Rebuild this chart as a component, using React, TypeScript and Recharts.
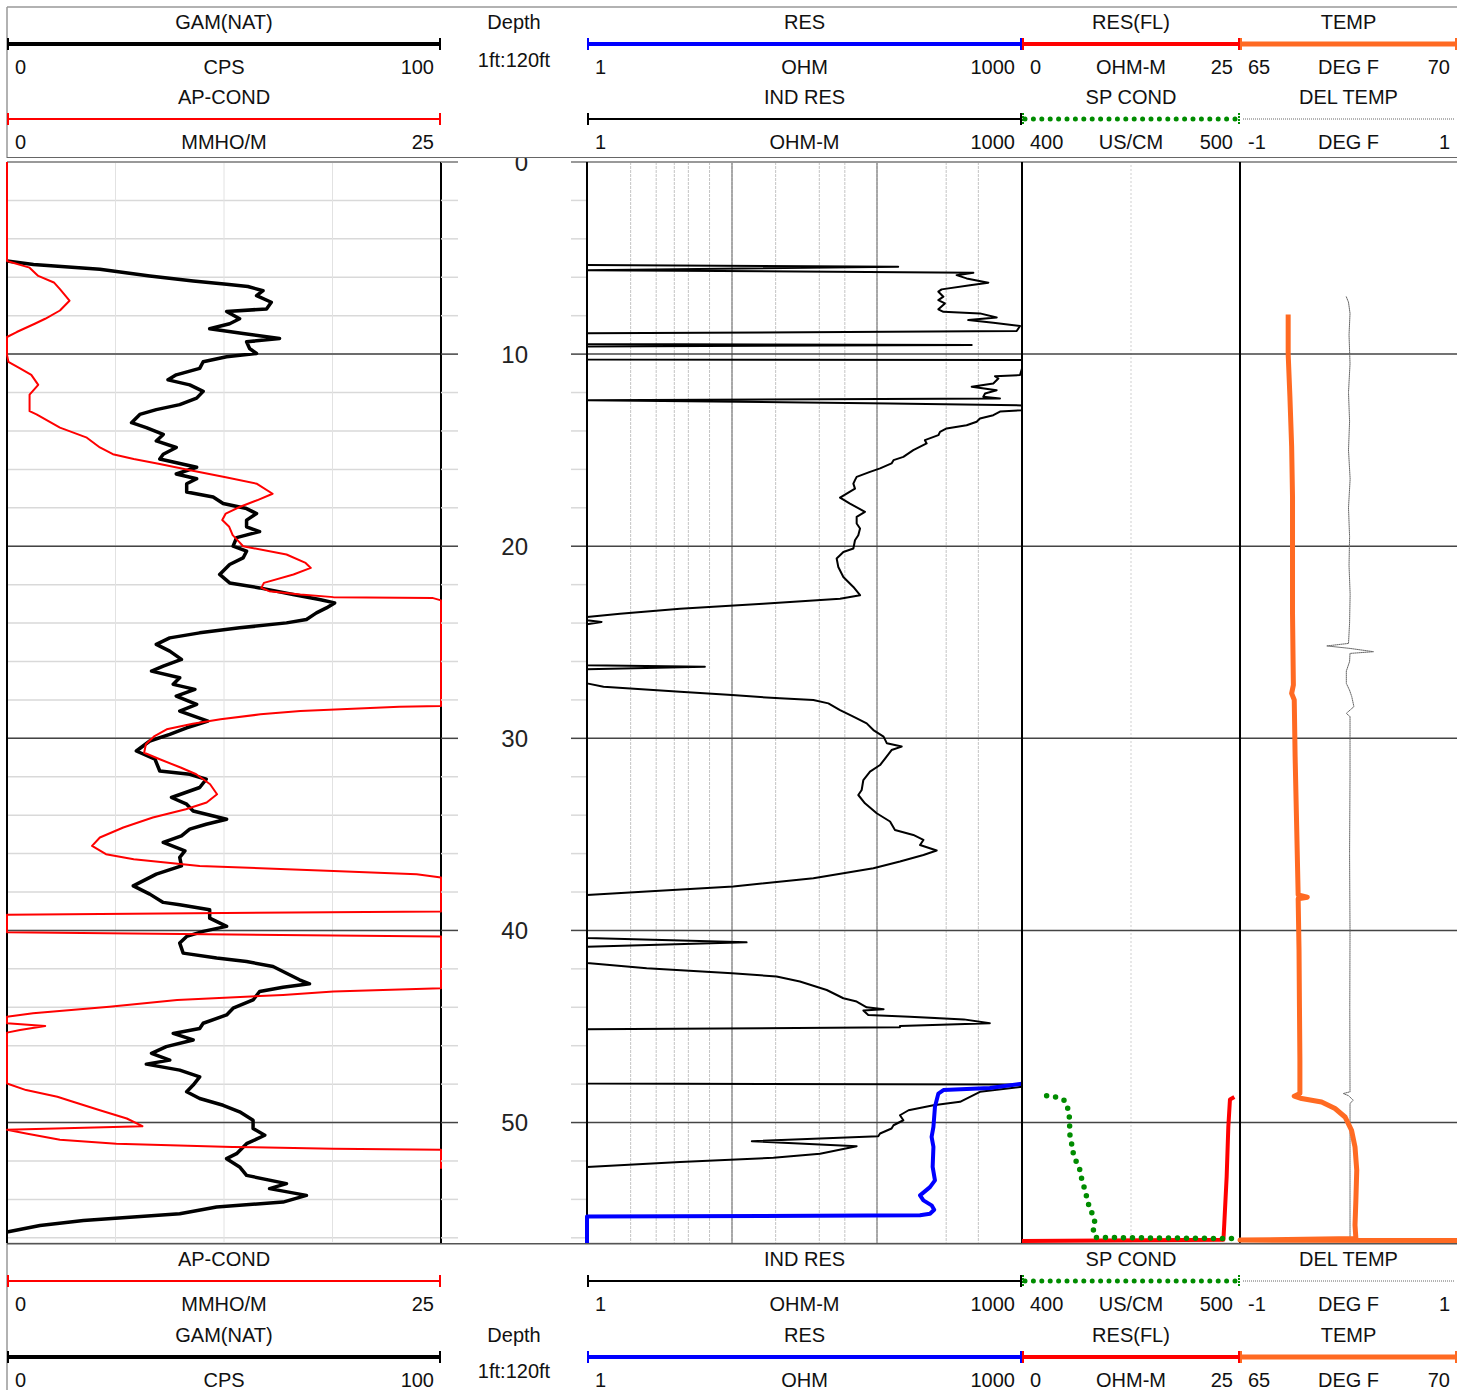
import React from "react";
import { LineChart, Line, XAxis, YAxis, CartesianGrid, ReferenceLine } from "recharts";

// ---- readings off the log: [depth ft, value] ----
const gamNat: [number, number][] = [
  [5.15, 0], [5.33, 6.1], [5.58, 21.4], [5.93, 32.9], [6.19, 42.9], [6.36, 50.6], [6.48, 55.5], [6.7, 59.0],
  [6.96, 57.5], [7.3, 60.9], [7.65, 59.8], [7.78, 50.6], [8.16, 53.6], [8.42, 51.3], [8.68, 46.7], [8.93, 54.4],
  [9.19, 62.8], [9.36, 55.2], [9.71, 55.9], [9.97, 57.5], [10.14, 50.6], [10.4, 45.2], [10.74, 44.4], [11.08, 39.0],
  [11.34, 37.1], [11.6, 42.1], [11.94, 45.2], [12.29, 43.7], [12.63, 39.8], [12.89, 34.4], [13.14, 30.6], [13.57, 28.7],
  [13.83, 32.1], [14.18, 36.0], [14.52, 34.4], [14.86, 39.0], [15.21, 36.0], [15.46, 35.2], [15.89, 43.7], [16.24, 39.0],
  [16.49, 43.7], [16.75, 41.4], [17.18, 41.4], [17.44, 47.5], [17.78, 49.8], [18.04, 55.2], [18.3, 57.5], [18.64, 55.2],
  [18.99, 55.2], [19.24, 58.2], [19.55, 52.9], [20.0, 52.1], [20.26, 55.2], [20.61, 54.4], [20.95, 51.3], [21.47, 49.0],
  [21.91, 51.3], [22.17, 58.2], [22.51, 65.9], [22.77, 72.0], [22.95, 75.5], [23.21, 73.6], [23.47, 71.3], [23.81, 69.0],
  [23.99, 64.4], [24.25, 53.6], [24.51, 44.4], [24.77, 37.5], [25.11, 34.4], [25.46, 37.5], [25.89, 40.2], [26.24, 36.0],
  [26.5, 33.3], [26.85, 39.8], [27.19, 38.3], [27.45, 43.3], [27.8, 39.0], [28.23, 43.7], [28.58, 39.8], [29.1, 46.3],
  [29.45, 41.4], [29.79, 37.5], [30.14, 32.9], [30.66, 29.8], [31.09, 34.1], [31.7, 35.2], [31.87, 42.1], [32.13, 45.9],
  [32.56, 44.4], [33.08, 37.9], [33.43, 41.4], [33.78, 42.9], [34.21, 50.6], [34.47, 45.9], [34.73, 42.1], [35.08, 40.2],
  [35.42, 36.0], [35.86, 41.0], [36.2, 39.8], [36.64, 40.2], [37.07, 34.4], [37.68, 29.1], [38.11, 32.9], [38.54, 36.0],
  [38.66, 39.8], [38.92, 46.7], [39.36, 46.7], [39.79, 50.6], [40.05, 45.2], [40.31, 41.4], [40.66, 39.8], [41.18, 40.6],
  [41.44, 48.3], [41.62, 55.2], [41.88, 61.3], [42.23, 64.4], [42.57, 67.4], [42.78, 69.7], [42.96, 63.6], [43.18, 58.2],
  [43.62, 56.7], [44.05, 52.1], [44.4, 50.6], [44.83, 45.2], [45.1, 44.4], [45.36, 38.3], [45.7, 42.9], [46.05, 36.7],
  [46.4, 33.3], [46.75, 37.5], [46.96, 32.1], [47.27, 39.8], [47.62, 44.4], [48.05, 42.9], [48.4, 41.4], [48.75, 44.4],
  [49.1, 49.8], [49.44, 53.6], [49.88, 56.7], [50.31, 56.7], [50.66, 59.4], [51.1, 55.2], [51.62, 52.9], [51.88, 50.6],
  [52.31, 53.6], [52.75, 55.2], [53.18, 64.4], [53.44, 60.5], [53.79, 69.0], [54.14, 63.6], [54.4, 48.3], [54.75, 39.8],
  [55.1, 17.6], [55.36, 7.6], [55.7, 0],
];

const apCond: [number, number][] = [
  [0, 0], [5.15, 0], [5.5, 1.3], [5.93, 1.8], [6.27, 2.7], [6.62, 3.05], [7.22, 3.6], [7.73, 3.05], [8.16, 2.2],
  [8.42, 1.6], [8.85, 0.56], [9.11, 0], [10.05, 0], [10.4, 0.08], [10.74, 0.75], [11.08, 1.4], [11.6, 1.8], [12.11, 1.3],
  [12.97, 1.3], [13.14, 1.7], [13.83, 3.05], [14.35, 4.6], [14.86, 5.35], [15.21, 6.1], [15.46, 7.3], [15.72, 8.8],
  [16.07, 10.7], [16.41, 12.6], [16.75, 14.4], [17.27, 15.3], [17.61, 14.4], [17.96, 13.4], [18.3, 12.6], [18.64, 12.4],
  [18.99, 12.8], [19.42, 13.0], [19.8, 13.4], [20.0, 13.6], [20.43, 16.1], [20.87, 17.2], [21.13, 17.5], [21.47, 16.5],
  [21.91, 14.8], [22.17, 14.65], [22.34, 15.1], [22.51, 16.9], [22.65, 18.8], [22.69, 24.5], [22.82, 25], [28.32, 25],
  [28.35, 22.6], [28.58, 16.9], [28.75, 14.6], [29.01, 12.3], [29.24, 10.7], [29.53, 9.2], [29.88, 8.5], [30.31, 8.0],
  [30.75, 7.9], [31.09, 8.8], [31.52, 10.0], [31.87, 10.9], [32.39, 11.7], [32.91, 12.1], [33.34, 11.5], [33.69, 10.3],
  [34.12, 8.4], [34.64, 6.7], [35.16, 5.35], [35.6, 4.9], [36.03, 5.7], [36.29, 7.3], [36.64, 11.1], [36.9, 18.8],
  [37.07, 23.6], [37.24, 25], [39.01, 25], [39.18, 0], [40.1, 0], [40.31, 25], [43.01, 25], [43.18, 18.8], [43.36, 15.9],
  [43.62, 9.8], [43.97, 5.9], [44.31, 1.5], [44.49, 0], [44.83, 0], [44.97, 2.2], [45.18, 0.75], [45.32, 0], [47.97, 0],
  [48.31, 1.1], [48.66, 2.9], [48.92, 3.8], [49.36, 5.35], [49.79, 6.9], [50.19, 7.8], [50.37, 0], [50.57, 1.1],
  [50.89, 3.05], [51.1, 6.3], [51.27, 13.0], [51.36, 18.8], [51.41, 25], [52.4, 25],
];

const indRes: [number, number][] = [
  [5.36, 1], [5.45, 140], [5.63, 1], [5.76, 462], [5.89, 354], [6.06, 415], [6.28, 586], [6.41, 438], [6.63, 279],
  [6.75, 265], [7.01, 287], [7.19, 265], [7.36, 294], [7.67, 265], [7.8, 287], [7.88, 513], [8.09, 669], [8.23, 426],
  [8.37, 634], [8.54, 969], [8.8, 919], [8.92, 1], [9.47, 1], [9.53, 450], [9.6, 1], [10.28, 1], [10.31, 1000],
  [10.75, 1000], [11.09, 969], [11.15, 651], [11.27, 687], [11.53, 634], [11.7, 450], [11.88, 669], [12.05, 556],
  [12.22, 541], [12.31, 705], [12.4, 1], [12.57, 123], [12.67, 1000], [12.92, 1000], [12.99, 705], [13.18, 634],
  [13.35, 513], [13.52, 487], [13.7, 415], [13.87, 302], [14.05, 272], [14.22, 265], [14.48, 214], [14.65, 220],
  [15.0, 178], [15.35, 152], [15.52, 130], [15.69, 126], [15.95, 105], [16.13, 89.5], [16.39, 72.4], [16.56, 70.5],
  [16.74, 68.7], [17.0, 70.5], [17.26, 61.8], [17.47, 55.6], [17.78, 65.1], [18.21, 82.6], [18.47, 72.4], [18.82, 72.4],
  [19.08, 76.4], [19.43, 74.3], [19.69, 70.5], [20.12, 68.7], [20.3, 58.6], [20.47, 55.6], [20.64, 52.7], [21.08, 54.1],
  [21.6, 58.6], [22.12, 68.7], [22.55, 76.4], [22.73, 55.6], [22.99, 16.4], [23.25, 4.38], [23.51, 1.69], [23.68, 1],
  [23.85, 1], [23.94, 1.26], [24.06, 1], [26.19, 1], [26.27, 6.5], [26.41, 1], [27.14, 1], [27.31, 1.3], [27.57, 4.38],
  [27.75, 10], [27.92, 21.4], [28.01, 36.4], [28.18, 46.2], [28.53, 55.6], [28.87, 68.7], [29.22, 84.9], [29.57, 94.4],
  [29.91, 111], [30.26, 117], [30.43, 148], [30.61, 126], [31.04, 114], [31.39, 105], [31.73, 89.5], [32.17, 80.5],
  [32.69, 78.4], [32.95, 74.3], [33.38, 82.6], [33.9, 99.5], [34.33, 123], [34.77, 133], [35.03, 178], [35.29, 209],
  [35.55, 198], [35.84, 258], [36.07, 209], [36.41, 144], [36.76, 94.4], [37.28, 36.4], [37.71, 10.2], [37.97, 2.58],
  [38.15, 1], [40.4, 1], [40.62, 12.6], [40.85, 1], [41.7, 1], [41.97, 2.58], [42.23, 10], [42.4, 20.3], [42.66, 29.4],
  [43.1, 45], [43.53, 58.6], [43.7, 72.4], [44.0, 84.9], [44.1, 111], [44.17, 80.5], [44.4, 87], [44.49, 168],
  [44.63, 397], [44.83, 600], [44.97, 144], [45.04, 144], [45.15, 1], [47.97, 1], [48.02, 1000], [48.14, 1000],
  [48.4, 513], [48.66, 438], [48.92, 374], [49.1, 245], [49.36, 165], [49.62, 144], [49.88, 152], [50.14, 130],
  [50.31, 126], [50.57, 105], [50.71, 102], [50.97, 13.7], [51.23, 72.4], [51.62, 40.5], [51.83, 19.3], [52.05, 4.38],
  [52.31, 1],
];

const res: [number, number][] = [
  [47.98, 1000], [48.2, 600], [48.31, 287], [48.49, 265], [49.18, 251], [50.23, 245], [50.75, 238], [51.27, 245],
  [52.31, 242], [53.01, 251], [53.36, 232], [53.79, 198], [54.05, 209], [54.31, 238], [54.54, 248], [54.75, 232],
  [54.83, 198], [54.89, 1], [56.27, 1],
];

const resFl: [number, number][] = [
  [48.67, 24.35], [48.8, 23.85], [50.23, 23.66], [52.82, 23.47], [55.25, 23.2], [56.1, 23.1], [56.17, 0],
];

const spCond: [number, number][] = [
  [48.61, 411.3], [48.67, 415.4], [48.84, 419.4], [49.22, 420.9], [49.71, 421.7], [50.66, 422.0], [51.13, 422.8],
  [51.58, 423.5], [52.01, 424.8], [52.48, 426.6], [52.95, 427.4], [53.41, 428.6], [53.88, 429.7], [54.33, 430.7],
  [54.77, 432.3], [55.22, 433.5], [55.63, 432.7], [55.98, 433.5], [56.04, 497.7],
];

const temp: [number, number][] = [
  [7.94, 66.11], [10.0, 66.11], [12.22, 66.15], [14.82, 66.19], [17.42, 66.21], [20.03, 66.21], [23.5, 66.21],
  [27.22, 66.23], [27.66, 66.19], [28.0, 66.25], [30.95, 66.27], [34.0, 66.3], [38.15, 66.34], [38.27, 66.55],
  [38.35, 66.34], [41.0, 66.36], [44.0, 66.37], [46.76, 66.38], [48.49, 66.38], [48.63, 66.25], [48.75, 66.42],
  [48.93, 66.88], [49.27, 67.19], [49.71, 67.42], [50.4, 67.57], [51.27, 67.65], [52.48, 67.69], [54.04, 67.67],
  [55.34, 67.65], [56.03, 67.67], [56.12, 65], [56.14, 70],
];

const delTemp: [number, number][] = [
  [7.02, -0.02], [7.3, 0.0], [7.88, 0.014], [9.0, 0.005], [10.5, 0.014], [12.0, 0.0], [13.5, 0.01], [15.0, 0.0],
  [16.5, 0.015], [18.0, 0.0], [19.5, 0.01], [21.0, 0.005], [22.5, 0.015], [24.0, 0.01], [25.06, 0.0], [25.19, -0.2],
  [25.32, 0.014], [25.49, 0.23], [25.58, 0.014], [26.0, 0.01], [26.5, -0.02], [27.14, -0.02], [27.5, 0.01],
  [27.83, 0.03], [28.35, 0.05], [28.7, -0.02], [28.87, 0.014], [32.0, 0.014], [36.0, 0.01], [40.0, 0.014],
  [44.0, 0.012], [48.4, 0.014], [48.49, -0.048], [48.6, 0.0], [48.84, 0.044], [49.0, 0.014], [52.0, 0.014],
  [56.2, 0.014],
];

const depthTicks = [0, 2, 4, 6, 8, 10, 12, 14, 16, 18, 20, 22, 24, 26, 28, 30, 32, 34, 36, 38, 40, 42, 44, 46, 48, 50, 52, 54, 56];
const tenFootLines = [10, 20, 30, 40, 50];
const gamTicks = [0, 25, 50, 75, 100];
const logTicks = [1, 2, 3, 4, 5, 6, 7, 8, 9, 10, 20, 30, 40, 50, 60, 70, 80, 90, 100, 200, 300, 400, 500, 600, 700, 800, 900, 1000];
const decadeLines = [10, 100];

// header / footer legend text
const legendA = [
  { key: "gam", title: "GAM(NAT)", unit: "CPS", lo: "0", hi: "100" },
  { key: "res", title: "RES", unit: "OHM", lo: "1", hi: "1000" },
  { key: "fl", title: "RES(FL)", unit: "OHM-M", lo: "0", hi: "25" },
  { key: "temp", title: "TEMP", unit: "DEG F", lo: "65", hi: "70" },
];
const legendB = [
  { key: "cond", title: "AP-COND", unit: "MMHO/M", lo: "0", hi: "25" },
  { key: "ind", title: "IND RES", unit: "OHM-M", lo: "1", hi: "1000" },
  { key: "sp", title: "SP COND", unit: "US/CM", lo: "400", hi: "500" },
  { key: "dt", title: "DEL TEMP", unit: "DEG F", lo: "-1", hi: "1" },
];

// layout + styles
const FONT = '"Liberation Sans", Arial, sans-serif';
const TOP = 162;
const PLOT_H = 1081;
const MAX_DEPTH = 56.27;
const PAD = 10;
const GRID = "#d9d9d9";
const MAJOR = "#444";

const trackX: Record<string, [number, number]> = {
  gam: [7, 441], cond: [7, 441], res: [587, 1022], ind: [587, 1022],
  fl: [1022, 1240], sp: [1022, 1240], temp: [1240, 1457], dt: [1240, 1457],
};
const curveStyle: Record<string, { color: string; width: number; dash?: string }> = {
  gam: { color: "#000", width: 3.5 },
  cond: { color: "#ff0000", width: 2 },
  res: { color: "#0000ff", width: 4 },
  ind: { color: "#000", width: 2 },
  fl: { color: "#ff0000", width: 4 },
  sp: { color: "#008c00", width: 5.5, dash: "0 9" },
  temp: { color: "#ff6a22", width: 5 },
  dt: { color: "#666", width: 1, dash: "1 1" },
};

const rows = (pts: [number, number][]) => pts.map(([depth, v]) => ({ depth, v }));

const DepthTick = (props: any) => {
  const { x, y, payload } = props;
  const d = payload.value;
  const major = d % 10 === 0;
  const stroke = d === 0 ? "#999" : major ? MAJOR : GRID;
  return (
    <g>
      <line x1={x} x2={x + 17} y1={y} y2={y} stroke={stroke} strokeWidth={d === 0 ? 2 : 1.5} />
      <line x1={x + 130} x2={x + 146} y1={y} y2={y} stroke={stroke} strokeWidth={d === 0 ? 2 : 1.5} />
      {major && (
        <text x={x + 87} y={y} textAnchor="end" dominantBaseline="central" fontSize={24} fill="#222" fontFamily={FONT}>
          {d}
        </text>
      )}
    </g>
  );
};

function depthLines(xId: string) {
  return [
    <ReferenceLine key="d0" xAxisId={xId} yAxisId="d" y={0} stroke="#999" strokeWidth={2} />,
    ...tenFootLines.map((d) => (
      <ReferenceLine key={`d${d}`} xAxisId={xId} yAxisId="d" y={d} stroke={MAJOR} strokeWidth={1.5} />
    )),
  ];
}

function curve(key: string, data: [number, number][]) {
  const s = curveStyle[key];
  return (
    <Line
      key={key}
      xAxisId={key}
      yAxisId="d"
      data={rows(data)}
      dataKey="v"
      stroke={s.color}
      strokeWidth={s.width}
      strokeDasharray={s.dash}
      strokeLinecap={s.dash ? "round" : "butt"}
      strokeLinejoin="round"
      dot={false}
      activeDot={false}
      isAnimationActive={false}
    />
  );
}

function ScaleRow({ y, items }: { y: number; items: typeof legendA }) {
  return (
    <g>
      {items.map((it) => {
        const [x0, x1] = trackX[it.key];
        const s = curveStyle[it.key];
        const ly = y + 22;
        const ty = y + 45;
        const mid = (x0 + x1) / 2;
        const lw = it.key === "sp" ? 5 : it.key === "dt" ? 1 : it.key === "gam" ? 4 : s.width;
        return (
          <g key={it.key}>
            <text x={mid} y={y} textAnchor="middle">{it.title}</text>
            <line
              x1={x0 + (s.dash ? 3 : 0)}
              x2={x1 - (s.dash ? 3 : 0)}
              y1={ly}
              y2={ly}
              stroke={s.color}
              strokeWidth={lw}
              strokeDasharray={it.key === "sp" ? "0 8.4" : s.dash}
              strokeLinecap={it.key === "sp" ? "round" : "butt"}
            />
            {it.key !== "dt" && (
              <>
                <line x1={x0 + 1} x2={x0 + 1} y1={ly - 6} y2={ly + 6} stroke={s.color} strokeWidth={2} strokeDasharray={s.dash ? "2 1" : undefined} />
                <line x1={x1 - 1} x2={x1 - 1} y1={ly - 6} y2={ly + 6} stroke={s.color} strokeWidth={2} strokeDasharray={s.dash ? "2 1" : undefined} />
              </>
            )}
            <text x={x0 + 8} y={ty} textAnchor="start">{it.lo}</text>
            <text x={mid} y={ty} textAnchor="middle">{it.unit}</text>
            <text x={x1 - 7} y={ty} textAnchor="end">{it.hi}</text>
          </g>
        );
      })}
    </g>
  );
}

function Header() {
  return (
    <svg width={1457} height={158} style={{ position: "absolute", left: 0, top: 0, fontFamily: FONT, fontSize: 20 }} dominantBaseline="central" fill="#111">
      <rect x={0} y={0} width={1457} height={158} fill="#fff" />
      <line x1={7} x2={1457} y1={7} y2={7} stroke="#999" strokeWidth={1.5} />
      <line x1={7} x2={7} y1={7} y2={158} stroke="#999" strokeWidth={1.5} />
      <ScaleRow y={22} items={legendA} />
      <ScaleRow y={97} items={legendB} />
      <text x={514} y={22} textAnchor="middle">Depth</text>
      <text x={514} y={60} textAnchor="middle">1ft:120ft</text>
      <line x1={7} x2={1457} y1={157.5} y2={157.5} stroke="#666" strokeWidth={1} />
    </svg>
  );
}

function Footer() {
  return (
    <svg width={1457} height={147} style={{ position: "absolute", left: 0, top: 1243, fontFamily: FONT, fontSize: 20 }} dominantBaseline="central" fill="#111">
      <rect x={0} y={0} width={1457} height={147} fill="#fff" />
      <line x1={7} x2={7} y1={0} y2={147} stroke="#999" strokeWidth={1.5} />
      <line x1={7} x2={1457} y1={0.75} y2={0.75} stroke="#555" strokeWidth={1.5} />
      <ScaleRow y={16} items={legendB} />
      <ScaleRow y={92} items={legendA} />
      <text x={514} y={92} textAnchor="middle">Depth</text>
      <text x={514} y={128} textAnchor="middle">1ft:120ft</text>
    </svg>
  );
}

// in a vertical layout the depth axis already runs top to bottom
const depthAxis = (hide: boolean) => (
  <YAxis
    yAxisId="d"
    type="number"
    dataKey="depth"
    domain={[0, MAX_DEPTH]}
    ticks={depthTicks}
    interval={0}
    hide={hide}
    orientation="right"
    width={hide ? 0 : 146}
    axisLine={false}
    tickLine={false}
    tickSize={0}
    tickMargin={0}
    tick={hide ? false : <DepthTick />}
  />
);

export default function App() {
  const h = PLOT_H + 2 * PAD;
  return (
    <div style={{ position: "absolute", left: 0, top: 0, width: 1457, height: 1390, overflow: "hidden", background: "#fff", fontFamily: FONT }}>
      {/* GAM / AP-COND track with depth column */}
      <div style={{ position: "absolute", left: 1, top: TOP - PAD }}>
        <LineChart layout="vertical" width={586} height={h} margin={{ top: PAD, bottom: PAD, left: 6, right: 0 }}>
          <XAxis xAxisId="gam" type="number" domain={[0, 100]} ticks={gamTicks} hide />
          <XAxis xAxisId="cond" type="number" domain={[0, 25]} hide />
          {depthAxis(false)}
          <CartesianGrid xAxisId="gam" yAxisId="d" stroke={GRID} strokeWidth={1.5} vertical={false} />
          <CartesianGrid xAxisId="gam" yAxisId="d" stroke="#e2e2e2" strokeWidth={1} horizontal={false} />
          {depthLines("gam")}
          <ReferenceLine xAxisId="gam" yAxisId="d" x={0} stroke="#000" strokeWidth={2} />
          <ReferenceLine xAxisId="gam" yAxisId="d" x={100} stroke="#000" strokeWidth={2} />
          {curve("gam", gamNat)}
          {curve("cond", apCond)}
        </LineChart>
      </div>

      {/* RES / IND RES track, log scale */}
      <div style={{ position: "absolute", left: 581, top: TOP - PAD }}>
        <LineChart layout="vertical" width={447} height={h} margin={{ top: PAD, bottom: PAD, left: 6, right: 6 }}>
          <XAxis xAxisId="ind" type="number" scale="log" domain={[1, 1000]} ticks={logTicks} hide />
          <XAxis xAxisId="res" type="number" scale="log" domain={[1, 1000]} hide />
          {depthAxis(true)}
          <CartesianGrid xAxisId="ind" yAxisId="d" stroke={GRID} strokeWidth={1.5} vertical={false} />
          <CartesianGrid xAxisId="ind" yAxisId="d" stroke="#c4c4c4" strokeWidth={1} strokeDasharray="3 1" horizontal={false} />
          {decadeLines.map((x) => (
            <ReferenceLine key={x} xAxisId="ind" yAxisId="d" x={x} stroke="#808080" strokeWidth={1.2} />
          ))}
          {depthLines("ind")}
          <ReferenceLine xAxisId="ind" yAxisId="d" x={1} stroke="#000" strokeWidth={2} />
          <ReferenceLine xAxisId="ind" yAxisId="d" x={1000} stroke="#000" strokeWidth={2} />
          {curve("ind", indRes)}
          {curve("res", res)}
        </LineChart>
      </div>

      {/* RES(FL) / SP COND track */}
      <div style={{ position: "absolute", left: 1016, top: TOP - PAD }}>
        <LineChart layout="vertical" width={230} height={h} margin={{ top: PAD, bottom: PAD, left: 6, right: 6 }}>
          <XAxis xAxisId="fl" type="number" domain={[0, 25]} hide />
          <XAxis xAxisId="sp" type="number" domain={[400, 500]} hide />
          {depthAxis(true)}
          <CartesianGrid xAxisId="fl" yAxisId="d" stroke={GRID} strokeWidth={1.5} vertical={false} />
          <ReferenceLine xAxisId="fl" yAxisId="d" x={12.5} stroke="#cfcfcf" strokeWidth={1} strokeDasharray="2 2" />
          {depthLines("fl")}
          <ReferenceLine xAxisId="fl" yAxisId="d" x={0} stroke="#000" strokeWidth={2} />
          <ReferenceLine xAxisId="fl" yAxisId="d" x={25} stroke="#000" strokeWidth={2} />
          {curve("fl", resFl)}
          {curve("sp", spCond)}
        </LineChart>
      </div>

      {/* TEMP / DEL TEMP track */}
      <div style={{ position: "absolute", left: 1234, top: TOP - PAD }}>
        <LineChart layout="vertical" width={229} height={h} margin={{ top: PAD, bottom: PAD, left: 6, right: 6 }}>
          <XAxis xAxisId="temp" type="number" domain={[65, 70]} hide />
          <XAxis xAxisId="dt" type="number" domain={[-1, 1]} hide />
          {depthAxis(true)}
          <CartesianGrid xAxisId="temp" yAxisId="d" stroke={GRID} strokeWidth={1.5} vertical={false} />
          {depthLines("temp")}
          <ReferenceLine xAxisId="temp" yAxisId="d" x={65} stroke="#000" strokeWidth={2} />
          {curve("dt", delTemp)}
          {curve("temp", temp)}
        </LineChart>
      </div>

      <Header />
      <Footer />
    </div>
  );
}
